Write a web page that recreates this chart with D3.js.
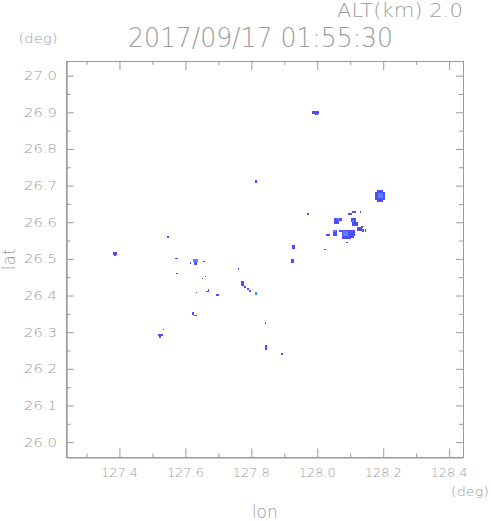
<!DOCTYPE html>
<html>
<head>
<meta charset="utf-8">
<script src="https://cdn.jsdelivr.net/npm/d3@7"></script>
<style>
  html, body { margin: 0; padding: 0; background: #fff; }
  svg text { font-family: "DejaVu Sans", sans-serif; fill: #9c9c9c; font-weight: 200; }
</style>
</head>
<body>
<svg id="chart" width="491" height="521"></svg>
<script>
// radar echo cells at ALT 2.0 km: [lon, lat, width(deg), height(deg), level]
var echoLon = [128.1906, 128.1906, 128.1921, 127.9942, 127.9988, 127.8131, 127.9714, 128.0992, 128.1114, 128.1312,
  128.0627, 128.0581, 128.0657, 128.1084, 128.1145, 128.1084, 128.1358, 128.1282, 128.1388, 128.1464,
  128.0536, 128.0536, 128.0703, 128.0323, 128.0901, 128.1068, 128.1023, 128.0871, 128.0901, 127.9272,
  128.0231, 127.9242, 127.7720, 127.7796, 127.7887, 127.7948, 127.8131, 127.8435, 127.8435, 127.8922,
  127.5482, 127.3869, 127.3869, 127.5741, 127.6304, 127.6320, 127.6152, 127.6578, 127.5756, 127.6609,
  127.6517, 127.7613, 127.6335, 127.6670, 127.6715, 127.6974, 127.6228, 127.6320, 127.5330, 127.5239,
  127.5224];
var echoLat = [26.6722, 26.6722, 26.6736, 26.8984, 26.8943, 26.7117, 26.6232, 26.6232, 26.6286, 26.6286,
  26.6082, 26.6014, 26.6096, 26.6068, 26.5959, 26.6041, 26.5877, 26.5823, 26.5782, 26.5782,
  26.5714, 26.5755, 26.5768, 26.5659, 26.5659, 26.5714, 26.5605, 26.5687, 26.5441, 26.5332,
  26.5251, 26.4951, 26.4324, 26.4242, 26.4174, 26.4134, 26.4052, 26.3262, 26.2594, 26.2417,
  26.5605, 26.5142, 26.5088, 26.5019, 26.4951, 26.4869, 26.4897, 26.4937, 26.4610, 26.4529,
  26.4474, 26.4733, 26.4079, 26.4120, 26.4161, 26.4025, 26.3520, 26.3466, 26.3071, 26.2935,
  26.2894];
var echoW = [0.0304, 0.0183, 0.0152, 0.0213, 0.0091, 0.0061, 0.0061, 0.0122, 0.0122, 0.0046,
  0.0244, 0.0152, 0.0091, 0.0152, 0.0183, 0.0061, 0.0061, 0.0152, 0.0061, 0.0030,
  0.0122, 0.0091, 0.0091, 0.0122, 0.0274, 0.0152, 0.0183, 0.0152, 0.0061, 0.0091,
  0.0061, 0.0091, 0.0091, 0.0061, 0.0061, 0.0061, 0.0061, 0.0046, 0.0061, 0.0061,
  0.0061, 0.0122, 0.0061, 0.0091, 0.0152, 0.0091, 0.0030, 0.0061, 0.0061, 0.0030,
  0.0030, 0.0030, 0.0030, 0.0091, 0.0030, 0.0061, 0.0076, 0.0091, 0.0030, 0.0152,
  0.0061];
var echoH = [0.0218, 0.0327, 0.0136, 0.0082, 0.0054, 0.0082, 0.0054, 0.0054, 0.0054, 0.0068,
  0.0082, 0.0109, 0.0054, 0.0109, 0.0109, 0.0054, 0.0054, 0.0109, 0.0082, 0.0082,
  0.0163, 0.0054, 0.0054, 0.0054, 0.0245, 0.0163, 0.0082, 0.0136, 0.0041, 0.0109,
  0.0041, 0.0109, 0.0136, 0.0054, 0.0054, 0.0054, 0.0082, 0.0054, 0.0136, 0.0054,
  0.0054, 0.0082, 0.0027, 0.0027, 0.0082, 0.0082, 0.0054, 0.0027, 0.0027, 0.0027,
  0.0027, 0.0054, 0.0027, 0.0027, 0.0054, 0.0054, 0.0082, 0.0027, 0.0027, 0.0054,
  0.0082];
var echoLevel = [1, 1, 2, 1, 1, 1, 1, 1, 1, 1,
  1, 1, 2, 1, 1, 2, 1, 1, 1, 1,
  1, 2, 1, 1, 1, 1, 1, 2, 1, 1,
  1, 1, 1, 1, 1, 1, 2, 1, 1, 1,
  1, 1, 1, 1, 2, 1, 1, 1, 1, 1,
  1, 1, 1, 1, 1, 1, 1, 1, 1, 1,
  1];
var levelColors = ["#ffffff", "#4d4dff", "#4f86ff"];

var lonTicks = [127.4, 127.6, 127.8, 128.0, 128.2, 128.4];
var lonMinor = [127.3, 127.5, 127.7, 127.9, 128.1, 128.3];
var latTicks = [26.0, 26.1, 26.2, 26.3, 26.4, 26.5, 26.6, 26.7, 26.8, 26.9, 27.0];
var latMinor = [26.05, 26.15, 26.25, 26.35, 26.45, 26.55, 26.65, 26.75, 26.85, 26.95];

var timeLabel = "2017/09/17 01:55:30",
  altLabel = "ALT(km) 2.0";

var svg = d3.select("#chart"),
  frame = {left: 66.7, right: 463, top: 61, bottom: 457.5},
  axisColor = "#9a9a9a",
  x = d3.scaleLinear().domain([127.24, 128.442]).range([frame.left, frame.right]),
  y = d3.scaleLinear().domain([25.958, 27.04]).range([frame.bottom, frame.top]),
  fmt = d3.format(".1f");

var echoes = echoLon.map(function(d, i) {
  return {lon: d, lat: echoLat[i], w: echoW[i], h: echoH[i], level: echoLevel[i]};
});

// echo cells, level 1 first so the stronger cores sit on top
svg.append("g")
  .selectAll("rect")
  .data(echoes.slice().sort(function(a, b) { return a.level - b.level; }))
  .enter().append("rect")
  .attr("x", function(d) { return x(d.lon - d.w / 2); })
  .attr("y", function(d) { return y(d.lat + d.h / 2); })
  .attr("width", function(d) { return x(d.lon + d.w / 2) - x(d.lon - d.w / 2); })
  .attr("height", function(d) { return y(d.lat - d.h / 2) - y(d.lat + d.h / 2); })
  .attr("fill", function(d) { return levelColors[d.level]; })
  .attr("shape-rendering", "crispEdges");

// axes on all four sides, ticks pointing inward
var axes = [
  {axis: d3.axisBottom(x), pos: "translate(0," + frame.top + ")", major: lonTicks, minor: lonMinor, len: 9},
  {axis: d3.axisTop(x), pos: "translate(0," + frame.bottom + ")", major: lonTicks, minor: lonMinor, len: 9},
  {axis: d3.axisRight(y), pos: "translate(" + frame.left + ",0)", major: latTicks, minor: latMinor, len: 7},
  {axis: d3.axisLeft(y), pos: "translate(" + frame.right + ",0)", major: latTicks, minor: latMinor, len: 7}
];

axes.forEach(function(a) {
  var g = svg.append("g").attr("transform", a.pos);
  g.call(a.axis.tickValues(a.major).tickSize(a.len).tickSizeOuter(0).tickFormat(""));
  g.append("g").call(a.axis.tickValues(a.minor).tickSize(4).tickFormat(""))
    .select(".domain").remove();
  g.selectAll("line").attr("stroke", axisColor);
  g.selectAll(".domain").attr("stroke", axisColor);
  g.selectAll("text").remove();
});

svg.append("rect")
  .attr("x", frame.left).attr("y", frame.top)
  .attr("width", frame.right - frame.left).attr("height", frame.bottom - frame.top)
  .attr("fill", "none").attr("stroke", axisColor).attr("shape-rendering", "crispEdges");

// tick labels
svg.append("g").selectAll("text")
  .data(lonTicks).enter().append("text")
  .attr("x", function(d) { return x(d); })
  .attr("y", 477)
  .attr("text-anchor", "middle")
  .attr("font-size", 12.5)
  .attr("textLength", 37)
  .attr("lengthAdjust", "spacingAndGlyphs")
  .text(fmt);

svg.append("g").selectAll("text")
  .data(latTicks).enter().append("text")
  .attr("x", 57)
  .attr("y", function(d) { return y(d) + 4.5; })
  .attr("text-anchor", "end")
  .attr("font-size", 12.5)
  .attr("textLength", 33)
  .attr("lengthAdjust", "spacingAndGlyphs")
  .text(fmt);

// titles and axis names
svg.append("text").attr("x", 128).attr("y", 46.5).attr("font-size", 27)
  .attr("textLength", 265).attr("lengthAdjust", "spacingAndGlyphs").text(timeLabel);
svg.append("text").attr("x", 337).attr("y", 16.5).attr("font-size", 19)
  .attr("textLength", 126).attr("lengthAdjust", "spacingAndGlyphs").text(altLabel);
svg.append("text").attr("x", 18.5).attr("y", 43).attr("font-size", 13)
  .attr("textLength", 39).attr("lengthAdjust", "spacingAndGlyphs").text("(deg)");
svg.append("text").attr("x", 451).attr("y", 496).attr("font-size", 13)
  .attr("textLength", 38).attr("lengthAdjust", "spacingAndGlyphs").text("(deg)");
svg.append("text").attr("x", (frame.left + frame.right) / 2).attr("y", 518)
  .attr("text-anchor", "middle").attr("font-size", 17).text("lon");
svg.append("text")
  .attr("transform", "translate(15," + (frame.top + frame.bottom) / 2 + ") rotate(-90)")
  .attr("text-anchor", "middle").attr("font-size", 17).text("lat");
</script>
</body>
</html>
